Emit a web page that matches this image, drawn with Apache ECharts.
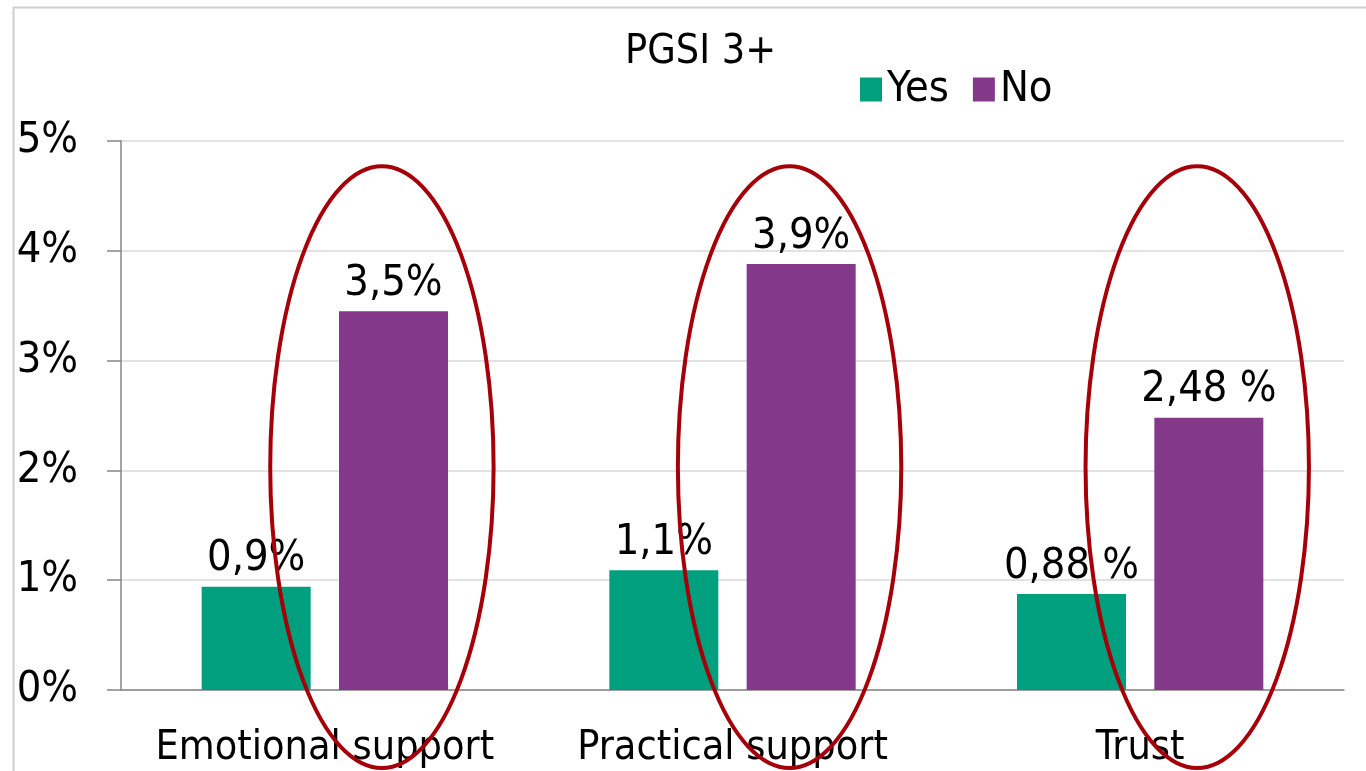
<!DOCTYPE html>
<html>
<head>
<meta charset="utf-8">
<script src="https://cdn.jsdelivr.net/npm/echarts@6/dist/echarts.min.js"></script>
<style>
  html, body { margin: 0; padding: 0; background: #ffffff; }
  #chart { width: 1366px; height: 771px; }
</style>
</head>
<body>
<div id="chart"></div>
<script>
// ---- data ----
const categories = ['Emotional support', 'Practical support', 'Trust'];
const seriesNames = ['Yes', 'No'];
const yesValues = [0.94, 1.09, 0.875];
const noValues = [3.45, 3.88, 2.48];
const yesLabels = ['0,9%', '1,1%', '0,88 %'];
const noLabels = ['3,5%', '3,9%', '2,48 %'];
const yTicks = [0, 1, 2, 3, 4, 5];
const chartTitle = 'PGSI 3+';
// highlight ellipses: centre value and half-height in axis units
const ellipseCenterValue = 2.03;
const ellipseHalfHeight = 2.74;

const FONT = "'DejaVu Sans Condensed', 'DejaVu Sans', sans-serif";
const chart = echarts.init(document.getElementById('chart'));

function ellipsePath(cx, cy, rx, ry) {
  return 'M' + (cx - rx) + ' ' + cy +
    ' A' + rx + ' ' + ry + ' 0 1 0 ' + (cx + rx) + ' ' + cy +
    ' A' + rx + ' ' + ry + ' 0 1 0 ' + (cx - rx) + ' ' + cy + ' Z';
}

const option = {
  backgroundColor: '#ffffff',
  animation: false,
  textStyle: { fontFamily: FONT },
  title: {
    text: chartTitle,
    left: 620,
    top: 27,
    textStyle: { fontFamily: FONT, fontSize: 41, fontWeight: 'normal', color: '#000000' }
  },
  legend: {
    data: seriesNames,
    left: 855,
    top: 63,
    itemWidth: 22,
    itemHeight: 24,
    itemGap: 24,
    icon: 'rect',
    textStyle: { fontFamily: FONT, fontSize: 43, color: '#000000' }
  },
  graphic: [{
    type: 'rect',
    left: 11,
    top: 5,
    shape: { width: 1400, height: 800 },
    style: { fill: 'none', stroke: '#cfcfcf', lineWidth: 2 },
    silent: true
  }],
  grid: { left: 121, top: 141, width: 1223, height: 549, containLabel: false },
  xAxis: {
    type: 'category',
    data: categories,
    axisLine: { lineStyle: { color: '#868686', width: 1.5 } },
    axisTick: { show: false },
    axisLabel: { fontFamily: FONT, fontSize: 41, color: '#000000', margin: 38, interval: 0, hideOverlap: false },
    splitLine: { show: false }
  },
  yAxis: {
    type: 'value',
    min: yTicks[0],
    max: yTicks[yTicks.length - 1],
    interval: 1,
    axisLine: { show: true, lineStyle: { color: '#868686', width: 1.5 } },
    axisTick: { show: true, length: 14, lineStyle: { color: '#868686', width: 1.5 } },
    axisLabel: { fontFamily: FONT, fontSize: 43, color: '#000000', margin: 43, formatter: '{value}%' },
    splitLine: { show: true, lineStyle: { color: '#d9d9d9', width: 1.5 } }
  },
  series: [
    {
      name: seriesNames[0],
      type: 'bar',
      data: yesValues,
      barWidth: 109,
      barGap: '26%',
      itemStyle: { color: '#00A07F' },
      label: {
        show: true, position: 'top', distance: 6,
        fontFamily: FONT, fontSize: 43, color: '#000000',
        formatter: p => yesLabels[p.dataIndex]
      }
    },
    {
      name: seriesNames[1],
      type: 'bar',
      data: noValues,
      barWidth: 109,
      barGap: '26%',
      itemStyle: { color: '#84388A' },
      label: {
        show: true, position: 'top', distance: 6,
        fontFamily: FONT, fontSize: 43, color: '#000000',
        formatter: p => noLabels[p.dataIndex]
      }
    },
    {
      type: 'custom',
      name: 'highlight',
      data: categories.map((c, i) => [i]),
      clip: false,
      silent: true,
      z: 10,
      renderItem: function (params, api) {
        const idx = api.value(0);
        const c = api.coord([idx, ellipseCenterValue]);
        const catW = api.size([1, 0])[0];
        const ry = api.size([0, ellipseHalfHeight])[1];
        const cx = c[0] + catW * 0.14;
        const rx = catW * 0.274;
        return {
          type: 'path',
          shape: { pathData: ellipsePath(cx, c[1], rx, ry) },
          style: { fill: 'none', stroke: '#A50009', lineWidth: 4 }
        };
      }
    }
  ]
};
chart.setOption(option);
</script>
</body>
</html>
